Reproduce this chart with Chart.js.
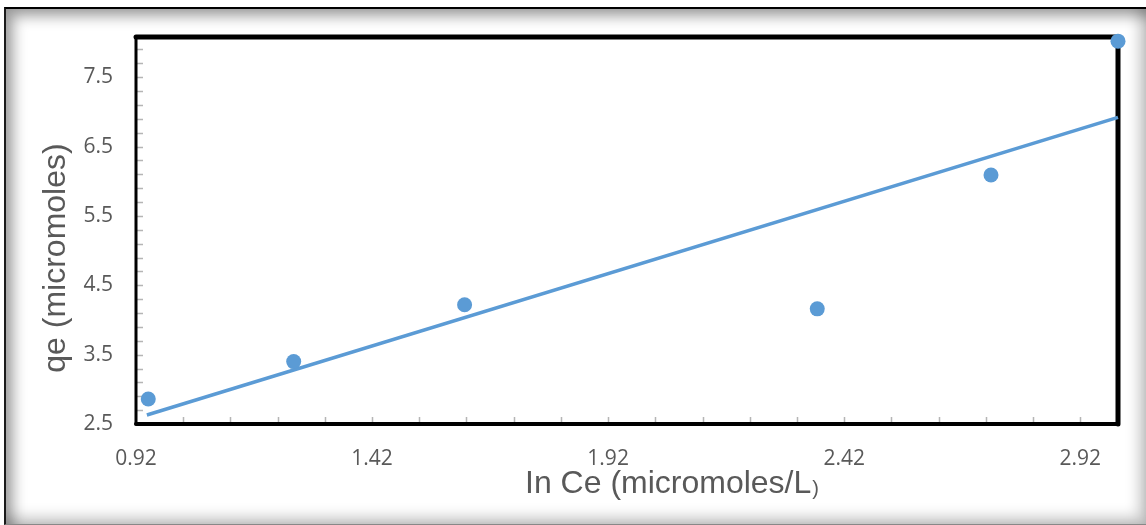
<!DOCTYPE html>
<html lang="en">
<head>
<meta charset="UTF-8">
<title>qe vs ln Ce</title>
<style>
    html, body { margin: 0; padding: 0; background: #fff; }
    #wrap { position: relative; width: 1146px; height: 525px; overflow: hidden; }
    #frame {
        position: absolute; left: 4px; top: 7px; width: 1140px; height: 515px;
        border-top: 2px solid #000; border-left: 2px solid #1a1a1a; border-bottom: 1px solid #888;
        box-shadow: inset 7px 7px 14px rgba(0,0,0,0.38), inset -7px -7px 14px rgba(0,0,0,0.22);
    }
    #myChart { position: absolute; left: 0; top: 0; }
</style>
</head>
<body>
<div id="wrap">
    <div id="frame"></div>
    <canvas id="myChart" width="1146" height="525"></canvas>
</div>

<script src="https://cdn.jsdelivr.net/npm/chart.js"></script>
<script>
// data
const lnCe = [0.946, 1.254, 1.616, 2.363, 2.731, 3.0]
const qe = [2.86, 3.40, 4.22, 4.16, 6.09, 8.02]
// linear trendline end points
const trendX = [0.943, 3.0]
const trendY = [2.63, 6.92]
// tick labels
const xTicks = [0.92, 1.42, 1.92, 2.42, 2.92]
const yTicks = [2.5, 3.5, 4.5, 5.5, 6.5, 7.5]

const blue = '#5B9BD5'
const grey = '#595959'

const frameTicks = {
    id: 'frameTicks',
    beforeDatasetsDraw(chart) {
        const { ctx, chartArea: { left, right, top, bottom }, scales: { x, y } } = chart
        ctx.save()
        // small inward ticks
        ctx.strokeStyle = '#b5b5b5'
        ctx.lineWidth = 1.5
        ctx.beginPath()
        for (let i = 1; i <= 20; i++) {
            const px = Math.round(x.getPixelForValue(0.92 + i * 0.1)) + 0.5
            ctx.moveTo(px, bottom)
            ctx.lineTo(px, bottom - 7)
        }
        for (let i = 1; i <= 27; i++) {
            const py = Math.round(y.getPixelForValue(2.5 + i * 0.2)) + 0.5
            ctx.moveTo(left, py)
            ctx.lineTo(left + 7, py)
        }
        ctx.stroke()
        // black plot frame
        ctx.strokeStyle = '#000'
        ctx.lineCap = 'round'
        const side = (w, x1, y1, x2, y2) => {
            ctx.lineWidth = w
            ctx.beginPath()
            ctx.moveTo(x1, y1)
            ctx.lineTo(x2, y2)
            ctx.stroke()
        }
        side(5, left, top, right, top)
        side(5, right, top, right, bottom)
        side(4, left, bottom, right, bottom)
        side(3, left, top, left, bottom)
        ctx.restore()
    },
    afterDraw(chart) {
        const { ctx } = chart
        ctx.save()
        ctx.fillStyle = grey
        // x title, small closing bracket as in the original
        ctx.font = '32px "Liberation Sans", Arial, sans-serif'
        ctx.textBaseline = 'alphabetic'
        ctx.textAlign = 'left'
        const main = 'In Ce (micromoles/L'
        ctx.fillText(main, 525, 493)
        const w = ctx.measureText(main).width
        ctx.font = '20px "Liberation Sans", Arial, sans-serif'
        ctx.fillText(')', 525 + w + 1, 495)
        // y title
        ctx.font = '32px "Liberation Sans", Arial, sans-serif'
        ctx.translate(56, 258)
        ctx.rotate(-Math.PI / 2)
        ctx.textAlign = 'center'
        ctx.textBaseline = 'middle'
        ctx.fillText('qe (micromoles)', 0, 0)
        ctx.restore()
    }
}

const ctx = document.getElementById('myChart')
new Chart(ctx, {
    type: 'scatter',
    data: {
        datasets: [
            {
                label: 'qe',
                data: lnCe.map((v, i) => ({ x: v, y: qe[i] })),
                backgroundColor: blue,
                borderWidth: 0,
                pointRadius: 7.5,
                pointHoverRadius: 7.5,
                clip: false
            },
            {
                type: 'line',
                label: 'Linear',
                data: trendX.map((v, i) => ({ x: v, y: trendY[i] })),
                borderColor: blue,
                borderWidth: 3.5,
                pointRadius: 0,
                fill: false,
                clip: false
            }
        ]
    },
    options: {
        responsive: false,
        animation: false,
        layout: { padding: { left: 0, top: 37, right: 28, bottom: 0 } },
        plugins: { legend: { display: false }, tooltip: { enabled: false } },
        scales: {
            x: {
                type: 'linear',
                min: 0.92,
                max: 3.0,
                grid: { display: false, drawTicks: false },
                border: { display: false },
                afterBuildTicks: s => { s.ticks = xTicks.map(v => ({ value: v })) },
                afterFit: s => { s.height = 101 },
                ticks: {
                    padding: 22,
                    color: grey,
                    font: { family: '"Open Sans", sans-serif', size: 21 },
                    callback: v => v.toFixed(2)
                }
            },
            y: {
                type: 'linear',
                min: 2.5,
                max: 8.08,
                grid: { display: false, drawTicks: false },
                border: { display: false },
                afterBuildTicks: s => { s.ticks = yTicks.map(v => ({ value: v })) },
                afterFit: s => { s.width = 136 },
                ticks: {
                    padding: 23,
                    color: grey,
                    font: { family: '"Open Sans", sans-serif', size: 21 },
                    callback: v => v.toFixed(1)
                }
            }
        }
    },
    plugins: [frameTicks]
})
</script>
</body>
</html>
